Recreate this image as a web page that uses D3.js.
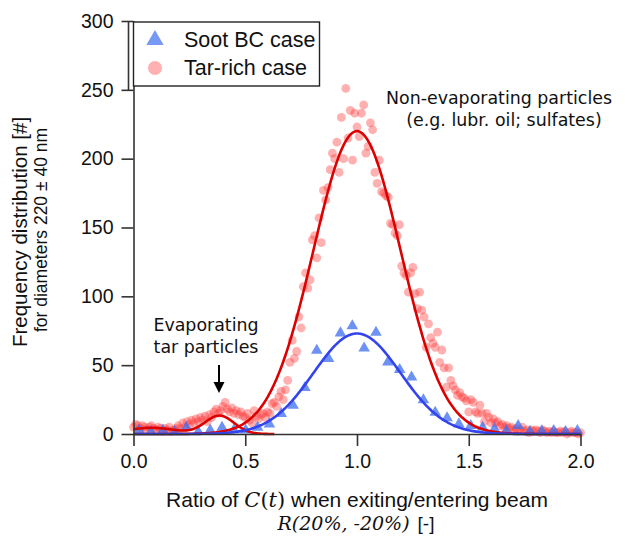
<!DOCTYPE html>
<html>
<head>
<meta charset="utf-8">
<script src="https://cdn.jsdelivr.net/npm/d3@7"></script>
<style>
  body { margin: 0; background: #fff; }
  svg text { font-family: "Liberation Sans", Arial, sans-serif; fill: #111; }
  .axis path, .axis line { stroke: #333; stroke-width: 1.6; }
  .axis text { font-size: 19.5px; fill: #111; }
  .note { font-family: "DejaVu Sans", Verdana, sans-serif; font-size: 17.4px; }
  .math { font-family: "DejaVu Serif", "Liberation Serif", serif; font-style: italic; }
</style>
</head>
<body>
<script>
// tar-rich case, one value every 0.01 from 0.00 to 2.00
const tarStep = 0.01;
const tarCounts = [
  5, 7, 6, 4, 6, 5, 3, 5, 6, 4,
  3, 5, 4, 2, 4, 3, 5, 2, 3, 4,
  6, 4, 8, 5, 9, 7, 10, 8, 11, 9,
  12, 10, 13, 9, 14, 12, 16, 18, 15, 17,
  20, 23, 18, 16, 19, 15, 17, 14, 16, 13,
  12, 15, 10, 8, 17, 13, 11, 14, 15, 12,
  16, 15, 22, 23, 20, 27, 31, 25, 32, 39,
  52, 68, 55, 60, 85, 77, 107, 117, 106, 112,
  141, 144, 128, 157, 139, 177, 170, 179, 192, 204,
  200, 212, 190, 230, 200, 251, 215, 235, 199, 233,
  223, 216, 233, 239, 204, 209, 226, 221, 190, 182,
  199, 176, 175, 173, 172, 153, 152, 146, 144, 152,
  122, 117, 115, 103, 117, 121, 102, 91, 103, 90,
  85, 63, 80, 70, 66, 63, 74, 52, 61, 48,
  34, 48, 39, 35, 32, 28, 30, 27, 26, 24,
  16, 25, 23, 16, 15, 21, 15, 9, 15, 12,
  8, 11, 8, 9, 6, 7, 5, 6, 4, 5,
  3, 4, 2, 3, 5, 2, 3, 1, 3, 2,
  3, 2, 1, 3, 2, 1, 2, 1, 2, 1,
  1, 2, 1, 2, 0, 1, 2, 1, 1, 0,
  1
];

// soot BC case
const sootRatio = [0.025, 0.078, 0.131, 0.184, 0.237, 0.290, 0.343, 0.396, 0.449, 0.502,
  0.555, 0.608, 0.661, 0.714, 0.767, 0.820, 0.873, 0.926, 0.979, 1.032,
  1.085, 1.138, 1.191, 1.244, 1.297, 1.350, 1.403, 1.456, 1.509, 1.562,
  1.615, 1.668, 1.721, 1.774, 1.827, 1.880, 1.933, 1.986];
const sootCounts = [2, 1, 2, 1, 4, 1, 2, 4, 2, 2,
  4, 6.5, 14, 20, 33, 60, 54, 72.6, 77.7, 61.7,
  73, 51.5, 46, 40.6, 24, 15, 11, 6.5, 5.3, 4,
  3, 1.7, 5.3, 1, 1.5, 1.7, 1, 1.7];

// gaussian fits: [amplitude, centre, width] per peak
const fitNames = ["tarMain", "tarSmall", "soot"];
const fitPeaks = [
  [[220, 1.0, 0.195]],
  [[4.5, 0.08, 0.11], [13.3, 0.385, 0.065]],
  [[73, 1.0, 0.195]]
];
const fitRanges = [[0, 2], [0, 0.63], [0, 2]];
const fitColors = ["#dd0000", "#dd0000", "#3344ee"];

const xTicks = [0, 0.5, 1, 1.5, 2];
const yTicks = [0, 50, 100, 150, 200, 250, 300];
const legendLabels = ["Soot BC case", "Tar-rich case"];

const width = 625;
const height = 540;
const plotLeft = 133.5, plotRight = 580.5, plotTop = 21, plotBottom = 434;

const svg = d3.select("body")
    .append("svg")
    .attr("width", width)
    .attr("height", height);

const x = d3.scaleLinear().domain([0, 2]).range([plotLeft, plotRight]);
const y = d3.scaleLinear().domain([0, 300]).range([plotBottom, plotTop]);

const tarData = tarCounts.map((v, i) => ({ r: i * tarStep, n: v }));
const sootData = sootRatio.map((r, i) => ({ r: r, n: sootCounts[i] }));

// points
svg.append("g")
    .selectAll("circle")
    .data(tarData)
    .enter()
    .append("circle")
    .attr("cx", d => x(d.r))
    .attr("cy", d => y(d.n))
    .attr("r", 4.4)
    .attr("fill", "#ff3a3a")
    .attr("fill-opacity", 0.4);

const tri = d3.symbol().type(d3.symbolTriangle).size(58);
svg.append("g")
    .selectAll("path")
    .data(sootData)
    .enter()
    .append("path")
    .attr("d", tri)
    .attr("transform", d => `translate(${x(d.r)},${y(d.n) - 1})`)
    .attr("fill", "#3d6df0")
    .attr("fill-opacity", 0.75);

// fitted curves
const line = d3.line()
    .x(d => x(d[0]))
    .y(d => y(d[1]));

fitNames.forEach((name, k) => {
    const [a, b] = fitRanges[k];
    const pts = [];
    for (let i = 0; i <= 300; i++) {
        const r = a + (b - a) * i / 300;
        let v = 0;
        fitPeaks[k].forEach(p => { v += p[0] * Math.exp(-((r - p[1]) ** 2) / (2 * p[2] * p[2])); });
        pts.push([r, v]);
    }
    svg.append("path")
        .attr("class", "fit " + name)
        .attr("d", line(pts))
        .attr("fill", "none")
        .attr("stroke", fitColors[k])
        .attr("stroke-width", 2.6);
});

// axes
svg.append("g")
    .attr("class", "axis")
    .attr("transform", `translate(0,${plotBottom})`)
    .call(d3.axisBottom(x).tickValues(xTicks).tickFormat(d3.format(".1f"))
        .tickSize(12).tickSizeOuter(0).tickPadding(8));

svg.append("g")
    .attr("class", "axis")
    .attr("transform", `translate(${plotLeft},0)`)
    .call(d3.axisLeft(y).tickValues(yTicks).tickSize(12).tickSizeOuter(0).tickPadding(8));

svg.selectAll(".axis .tick text").attr("fill", "#111");

// legend
const legend = svg.append("g").attr("id", "legend");
legend.append("line")
    .attr("x1", 128.5).attr("x2", 128.5)
    .attr("y1", 21).attr("y2", 90)
    .attr("stroke", "#333").attr("stroke-width", 1.6);
legend.append("rect")
    .attr("x", 133.5).attr("y", 22)
    .attr("width", 186).attr("height", 64)
    .attr("fill", "#fff")
    .attr("stroke", "#222").attr("stroke-width", 1.4);
legend.append("path")
    .attr("d", d3.symbol().type(d3.symbolTriangle).size(130)())
    .attr("transform", "translate(155,40)")
    .attr("fill", "#3d6df0").attr("fill-opacity", 0.7);
legend.append("circle")
    .attr("cx", 155).attr("cy", 68).attr("r", 7)
    .attr("fill", "#ff3a3a").attr("fill-opacity", 0.4);
legendLabels.forEach((t, i) => {
    legend.append("text")
        .attr("x", 184)
        .attr("y", 47 + i * 28)
        .style("font-size", "21.5px")
        .text(t);
});

// annotations
svg.append("text").attr("class", "note")
    .attr("x", 499).attr("y", 104)
    .attr("text-anchor", "middle")
    .text("Non-evaporating particles");
svg.append("text").attr("class", "note")
    .attr("x", 504).attr("y", 126)
    .attr("text-anchor", "middle")
    .text("(e.g. lubr. oil; sulfates)");
svg.append("text").attr("class", "note")
    .attr("x", 206).attr("y", 331)
    .attr("text-anchor", "middle")
    .text("Evaporating");
svg.append("text").attr("class", "note")
    .attr("x", 206).attr("y", 353)
    .attr("text-anchor", "middle")
    .text("tar particles");

svg.append("line")
    .attr("x1", 219).attr("x2", 219)
    .attr("y1", 365).attr("y2", 384)
    .attr("stroke", "#000").attr("stroke-width", 2);
svg.append("path")
    .attr("d", "M213.5,382 L224.5,382 L219,393 Z")
    .attr("fill", "#000");

// axis titles
const xTitle = svg.append("text")
    .attr("x", 357).attr("y", 507)
    .attr("text-anchor", "middle")
    .style("font-size", "21px");
xTitle.append("tspan").text("Ratio of ");
xTitle.append("tspan").attr("class", "math").text("C");
xTitle.append("tspan").attr("style", "font-family: 'DejaVu Serif', serif").text("(");
xTitle.append("tspan").attr("class", "math").text("t");
xTitle.append("tspan").attr("style", "font-family: 'DejaVu Serif', serif").text(")");
xTitle.append("tspan").text(" when exiting/entering beam");

const xTitle2 = svg.append("text")
    .attr("x", 356).attr("y", 530)
    .attr("text-anchor", "middle")
    .style("font-size", "19px");
xTitle2.append("tspan").attr("class", "math").text("R(20%, -20%)");
xTitle2.append("tspan").attr("dx", 8).text("[-]");

svg.append("text")
    .attr("transform", "rotate(-90)")
    .attr("x", -232).attr("y", 27)
    .attr("text-anchor", "middle")
    .style("font-size", "20.5px")
    .text("Frequency distribution [#]");
svg.append("text")
    .attr("transform", "rotate(-90)")
    .attr("x", -230).attr("y", 47)
    .attr("text-anchor", "middle")
    .style("font-size", "17.5px")
    .text("for diameters 220 ± 40 nm");
</script>
</body>
</html>
